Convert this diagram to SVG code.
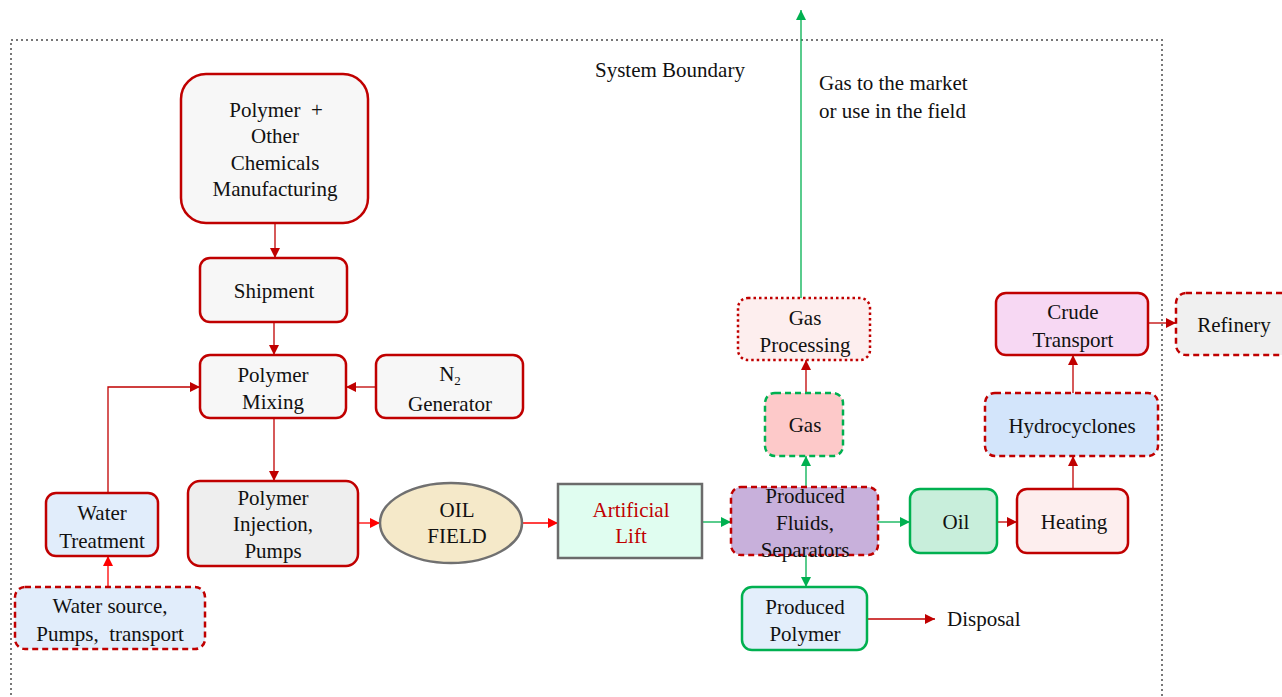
<svg xmlns="http://www.w3.org/2000/svg" width="1282" height="697" viewBox="0 0 1282 697" font-family="'Liberation Serif', 'Times New Roman', serif">
<defs>
<marker id="ar" viewBox="0 0 10 10" refX="10" refY="5" markerWidth="10" markerHeight="10" markerUnits="userSpaceOnUse" orient="auto"><path d="M0,0 L10,5 L0,10 z" fill="#c00000"/></marker>
<marker id="ab" viewBox="0 0 10 10" refX="10" refY="5" markerWidth="10" markerHeight="10" markerUnits="userSpaceOnUse" orient="auto"><path d="M0,0 L10,5 L0,10 z" fill="#ff0000"/></marker>
<marker id="ag" viewBox="0 0 10 10" refX="10" refY="5" markerWidth="10" markerHeight="10" markerUnits="userSpaceOnUse" orient="auto"><path d="M0,0 L10,5 L0,10 z" fill="#00b050"/></marker>
</defs>
<style>
text{font-family:'Liberation Serif','Times New Roman',serif;font-size:21px;fill:#111;text-anchor:middle}
.r{stroke:#c00000;stroke-width:2.5}
.g{stroke:#00b050;stroke-width:2.5}
.d{stroke-dasharray:6 4}
.o{stroke-dasharray:2.5 3}
.cr{stroke:#c00000;stroke-width:1.3;fill:none;marker-end:url(#ar)}
.cb{stroke:#ff0000;stroke-width:1.3;fill:none;marker-end:url(#ab)}
.cg{stroke:#00b050;stroke-width:1.3;fill:none;marker-end:url(#ag)}
</style>
<rect width="1282" height="697" fill="#fff"/>
<g id="boundary">
<path d="M11,700 V40 H1162 V700" fill="none" stroke="#777" stroke-width="2" stroke-dasharray="2 3"/>
<text x="595" y="77" style="text-anchor:start">System Boundary</text>
<text x="819" y="90" style="text-anchor:start">Gas to the market</text>
<text x="819" y="118" style="text-anchor:start">or use in the field</text>
</g>
<g id="connectors">
<path class="cr" d="M275,223 V258"/>
<path class="cr" d="M274,322 V355"/>
<path class="cr" d="M376,387 H346"/>
<path class="cr" d="M108,493 V387 H200"/>
<path class="cr" d="M274,418 V481"/>
<path class="cb" d="M108,587 V556"/>
<path class="cb" d="M358,523 H380"/>
<path class="cb" d="M522,523 H558"/>
<path class="cg" d="M702,522 H731"/>
<path class="cg" d="M806,487 V456"/>
<path class="cr" d="M806,393 V360"/>
<path class="cg" d="M801,298 V10"/>
<path class="cg" d="M806,555 V587"/>
<path class="cg" d="M878,522 H910"/>
<path class="cr" d="M997,522 H1017"/>
<path class="cr" d="M1073,489 V456"/>
<path class="cr" d="M1073,393 V355"/>
<path class="cr" d="M1148,323 H1176"/>
<path d="M867,619 H935" stroke="#c00000" stroke-width="1.3" fill="none" marker-end="url(#ar)"/>
<text x="947" y="626" style="text-anchor:start">Disposal</text>
</g>
<g id="manufacturing">
<rect x="181" y="74" width="187" height="149" rx="25" fill="#f7f7f7" class="r"/>
<text x="276" y="117">Polymer&#160; +</text>
<text x="275" y="143">Other</text>
<text x="275" y="170">Chemicals</text>
<text x="275" y="196">Manufacturing</text>
</g>
<g id="shipment">
<rect x="200" y="258" width="147" height="64" rx="10" fill="#f7f7f7" class="r"/>
<text x="274" y="298">Shipment</text>
</g>
<g id="mixing">
<rect x="200" y="355" width="146" height="63" rx="10" fill="#f7f7f7" class="r"/>
<text x="273" y="382">Polymer</text>
<text x="273" y="409">Mixing</text>
</g>
<g id="n2">
<rect x="376" y="355" width="147" height="63" rx="10" fill="#f7f7f7" class="r"/>
<text x="450" y="381">N<tspan font-size="13" dy="4">2</tspan></text>
<text x="450" y="411">Generator</text>
</g>
<g id="water-treatment">
<rect x="46" y="493" width="112" height="63" rx="10" fill="#e1edfb" class="r"/>
<text x="102" y="520">Water</text>
<text x="102" y="548">Treatment</text>
</g>
<g id="water-source">
<rect x="15" y="587" width="190" height="62" rx="10" fill="#e1edfb" class="r d"/>
<text x="110" y="613">Water source,</text>
<text x="110" y="641">Pumps,&#160; transport</text>
</g>
<g id="injection">
<rect x="188" y="481" width="170" height="85" rx="12" fill="#eeeeee" class="r"/>
<text x="273" y="505">Polymer</text>
<text x="273" y="531">Injection,</text>
<text x="273" y="558">Pumps</text>
</g>
<g id="oil-field">
<ellipse cx="451" cy="523" rx="71" ry="40" fill="#f5e9c9" stroke="#707070" stroke-width="2.5"/>
<text x="457" y="517">OIL</text>
<text x="457" y="543">FIELD</text>
</g>
<g id="artificial-lift">
<rect x="558" y="484" width="144" height="74" fill="#e0fdf0" stroke="#6b6b6b" stroke-width="2.5"/>
<text x="631" y="517" style="fill:#c00000">Artificial</text>
<text x="631" y="543" style="fill:#c00000">Lift</text>
</g>
<g id="separators">
<rect x="731" y="487" width="147" height="68" rx="10" fill="#c8b0db" class="r d"/>
<text x="805" y="503">Produced</text>
<text x="805" y="530">Fluids,</text>
<text x="805" y="557">Separators</text>
</g>
<g id="gas">
<rect x="765" y="393" width="78" height="63" rx="10" fill="#fdc9c9" class="g d"/>
<text x="805" y="432">Gas</text>
</g>
<g id="gas-processing">
<rect x="738" y="298" width="132" height="62" rx="10" fill="#fdeeee" class="r o"/>
<text x="805" y="325">Gas</text>
<text x="805" y="352">Processing</text>
</g>
<g id="produced-polymer">
<rect x="742" y="587" width="125" height="63" rx="10" fill="#e3eefb" class="g"/>
<text x="805" y="614">Produced</text>
<text x="805" y="641">Polymer</text>
</g>
<g id="oil">
<rect x="910" y="489" width="87" height="64" rx="10" fill="#c8eedb" class="g"/>
<text x="956" y="529">Oil</text>
</g>
<g id="heating">
<rect x="1017" y="489" width="111" height="64" rx="10" fill="#fdeeee" class="r"/>
<text x="1074" y="529">Heating</text>
</g>
<g id="hydrocyclones">
<rect x="985" y="393" width="173" height="63" rx="10" fill="#d3e5fb" class="r d"/>
<text x="1072" y="433">Hydrocyclones</text>
</g>
<g id="crude-transport">
<rect x="996" y="293" width="152" height="62" rx="10" fill="#f7d8f3" class="r"/>
<text x="1073" y="319">Crude</text>
<text x="1073" y="347">Transport</text>
</g>
<g id="refinery">
<rect x="1176" y="293" width="120" height="62" rx="10" fill="#f0f0f0" class="r d"/>
<text x="1234" y="332">Refinery</text>
</g>
</svg>
